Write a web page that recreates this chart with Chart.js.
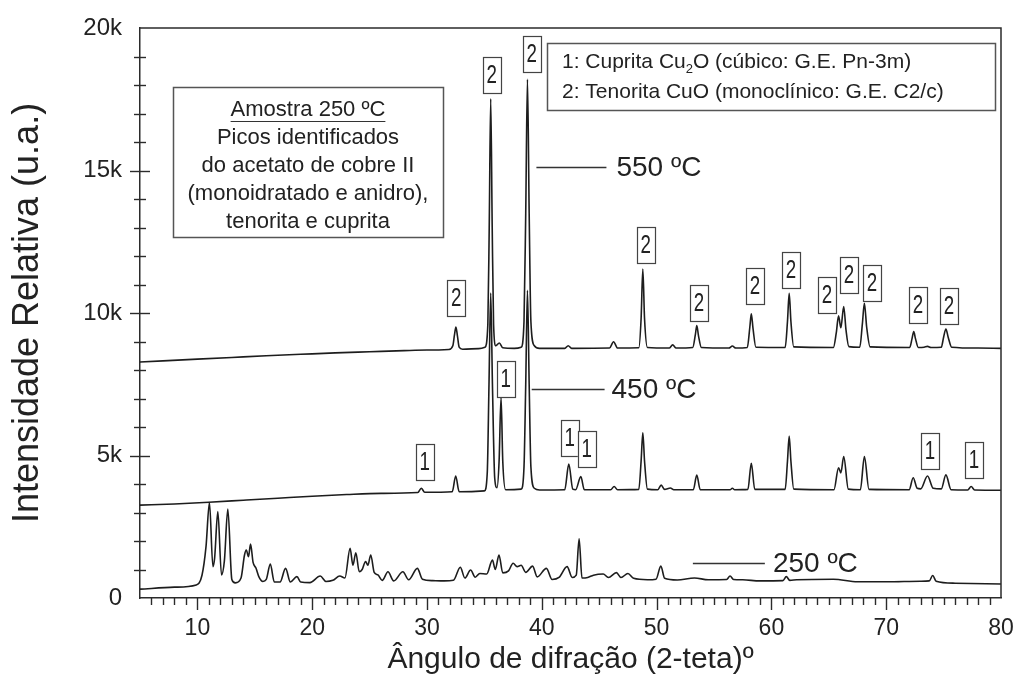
<!DOCTYPE html>
<html><head><meta charset="utf-8">
<script src="https://cdn.jsdelivr.net/npm/chart.js@4/dist/chart.umd.min.js"></script>
<style>html,body{margin:0;padding:0;background:#fff;}#wrap{width:1019px;height:693px;}</style>
</head><body><div id="wrap"><canvas id="c" width="1019" height="693"></canvas></div>
<script>
// ---- data ----
const angle550 = [5,7,10,13,16,19,22,25,28,30,31.9,32.25,32.4,32.52,32.65,32.8,33.1,34.5,35.05,35.3,35.42,35.55,35.68,35.8,36.0,36.3,36.6,37.6,38.2,38.45,38.6,38.75,38.9,39.05,39.35,39.8,42.0,42.3,42.6,45.9,46.25,46.6,48.45,48.65,48.8,48.95,49.2,51.1,51.4,51.7,53.15,53.38,53.5,53.65,53.9,56.3,56.6,56.9,57.9,58.12,58.25,58.4,58.65,61.2,61.4,61.55,61.7,61.95,65.4,65.65,65.85,66.05,66.3,66.5,66.75,67.7,67.92,68.1,68.3,68.6,72.05,72.25,72.4,72.55,72.8,73.3,73.6,73.9,74.8,75.0,75.2,75.4,75.7,78,80];
const int550 = [8280,8320,8380,8440,8500,8550,8600,8640,8680,8700,8720,8850,9250,9510,9200,8800,8730,8750,8800,9600,13000,17520,13000,9600,8850,8950,8780,8760,8800,9700,13500,18200,13500,9700,8850,8760,8760,8850,8760,8770,8990,8770,8780,9800,11540,9800,8790,8770,8880,8770,8790,9250,9560,9200,8790,8770,8840,8770,8790,9500,9970,9450,8800,8790,9700,10690,9700,8810,8790,9300,9900,9480,10230,9400,8820,8800,9600,10340,9500,8810,8790,9100,9350,9100,8790,8800,8830,8790,8800,9150,9440,9150,8800,8770,8760];

const angle450 = [5,8,11,14,17,20,23,26,29.2,29.5,29.8,32.2,32.5,32.8,35.0,35.25,35.4,35.55,35.7,35.9,36.1,36.28,36.45,36.6,36.85,38.2,38.45,38.6,38.75,38.9,39.05,39.35,39.8,42.0,42.35,42.7,42.95,43.4,43.7,46.0,46.3,46.6,48.45,48.65,48.8,48.95,49.2,50.1,50.4,50.7,51.2,51.5,53.2,53.5,53.8,56.4,56.6,56.8,57.95,58.25,58.55,61.2,61.4,61.55,61.7,61.95,65.45,65.85,66.05,66.3,66.7,67.75,68.1,68.5,72.0,72.35,72.7,73.0,73.6,74.1,74.8,75.2,75.65,77.1,77.4,77.7,80];
const int450 = [3260,3300,3360,3430,3500,3570,3630,3670,3700,3850,3710,3730,4280,3730,3760,4400,7500,10700,7500,4200,3870,4800,7050,4800,3800,3820,4600,7500,10800,7500,4600,3850,3790,3800,4700,3820,3800,4260,3800,3800,3910,3800,3810,4800,5800,4800,3820,3800,3960,3810,3860,3800,3800,4310,3800,3800,3850,3800,3810,4730,3810,3810,4800,5680,4800,3820,3800,4570,4390,4960,3820,3800,4960,3810,3800,4220,3850,3830,4280,3850,3830,4320,3800,3790,3910,3790,3780];

const angle250 = [5,8,9.9,10.4,10.75,11.05,11.35,11.5,11.78,12.1,12.35,12.65,13.0,13.3,13.8,14.1,14.26,14.45,14.63,14.85,15.1,15.35,15.7,16.0,16.35,16.7,17.2,17.68,18.1,18.67,19.0,19.8,20.7,21.2,21.8,22.4,22.85,23.3,23.55,23.8,24.1,24.35,24.65,24.85,25.1,25.4,25.73,26.1,26.6,27.1,27.9,28.4,29.16,29.6,30.5,31.5,32.3,32.9,33.3,33.8,34.2,34.6,35.2,35.7,35.95,36.27,36.6,37.1,37.5,37.85,38.2,38.6,39.2,39.6,40.4,40.9,41.5,42.2,42.65,43.0,43.25,43.5,44.0,44.5,45.35,45.8,46.5,46.9,47.5,48.0,49.2,49.95,50.37,50.7,51.8,53.3,54.5,56.1,56.4,56.7,57.5,59.0,61.0,61.3,61.6,62.2,65.4,67.5,70.0,73.0,73.75,74.05,74.35,76.0,80];
const int250 = [310,380,460,800,1800,3350,1100,1400,3030,810,1300,3120,650,530,700,1500,1680,1450,1890,1250,1050,750,580,650,1190,560,560,1040,560,750,560,540,770,580,620,770,700,1740,1150,1590,920,1000,1280,1150,1510,900,810,620,920,600,920,640,1040,660,610,600,620,1080,700,980,730,860,840,1330,1000,1510,880,950,1220,1100,1150,900,1120,740,1040,650,720,1100,720,800,2080,700,720,800,840,720,890,720,860,690,640,660,1120,690,630,700,640,650,770,650,640,600,610,750,620,640,660,570,570,590,600,790,590,520,490];

const xTickValues = [10,20,30,40,50,60,70,80];
const xTickLabels = ['10','20','30','40','50','60','70','80'];
const yTickValues = [0,5000,10000,15000,20000];
const yTickLabels = ['0','5k','10k','15k','20k'];

// phase marks: [angle, intensity] of each numbered box
const tenoritaMarks = [[32.54,10527],[35.64,18352],[39.13,19089],[49.06,12387],[53.68,10352],[58.56,10948],[61.70,11510],[64.84,10632],[66.76,11334],[68.76,11053],[72.77,10281],[75.47,10246]];
const cupritaMarks = [[29.80,4772],[36.86,7685],[42.44,5614],[43.92,5228],[73.81,5158],[77.65,4842]];

// curve labels: text, line start angle, line end angle, intensity, text angle
const curveLabels = [
  ['550 ºC', 39.53, 45.63, 15135, 46.5],
  ['450 ºC', 39.12, 45.47, 7334, 46.07],
  ['250 ºC', 53.16, 59.43, 1239, 60.13]
];
const legendLines = ['1: Cuprita Cu', '2', 'O (cúbico: G.E. Pn-3m)', '2: Tenorita CuO (monoclínico: G.E. C2/c)'];
const noteLines = ['Amostra 250 ºC','Picos identificados','do acetato de cobre II','(monoidratado e anidro),','tenorita e cuprita'];

// ---- drawing ----
const FONT = "'Liberation Sans', Arial, Helvetica, sans-serif";
const INK = '#222';
Chart.defaults.font.family = FONT;
Chart.defaults.color = INK;

const toPts = (xs, ys) => xs.map((x, i) => ({x, y: ys[i]}));

const overlay = {
  id: 'overlay',
  afterDraw(chart) {
    const {ctx, chartArea: ca, scales: {x, y}} = chart;
    ctx.save();
    ctx.strokeStyle = '#2b2b2b';
    ctx.lineWidth = 1.5;
    ctx.beginPath();
    ctx.moveTo(ca.left, ca.top); ctx.lineTo(ca.right, ca.top); ctx.lineTo(ca.right, ca.bottom);
    ctx.stroke();
    // y ticks (crossing axis)
    ctx.lineWidth = 1.4;
    for (let v = 1000; v < 20000; v += 1000) {
      const py = Math.round(y.getPixelForValue(v)) + 0.5;
      const L = (v % 5000 === 0) ? 10 : 6;
      ctx.beginPath(); ctx.moveTo(ca.left - L, py); ctx.lineTo(ca.left + L, py); ctx.stroke();
    }
    // x ticks (outward)
    for (let v = 6; v < 80; v += 1) {
      const px = Math.round(x.getPixelForValue(v)) + 0.5;
      const L = (v % 10 === 0) ? 12 : 7;
      ctx.beginPath(); ctx.moveTo(px, ca.bottom); ctx.lineTo(px, ca.bottom + L); ctx.stroke();
    }
    // phase marks
    const drawMark = (m, t) => {
      const cx = x.getPixelForValue(m[0]), cy = y.getPixelForValue(m[1]);
      ctx.fillStyle = '#fff';
      ctx.fillRect(cx - 9, cy - 18, 18, 36);
      ctx.strokeStyle = '#444'; ctx.lineWidth = 1.2;
      ctx.strokeRect(Math.round(cx - 9) + 0.5, Math.round(cy - 18) + 0.5, 18, 36);
      ctx.save();
      ctx.translate(cx, cy + 1);
      ctx.scale(0.75, 1);
      ctx.fillStyle = INK;
      ctx.font = '25px ' + FONT;
      ctx.textAlign = 'center'; ctx.textBaseline = 'middle';
      ctx.fillText(t, 0, 0);
      ctx.restore();
    };
    tenoritaMarks.forEach(m => drawMark(m, '2'));
    cupritaMarks.forEach(m => drawMark(m, '1'));
    // curve labels
    ctx.font = '28px ' + FONT; ctx.textAlign = 'left'; ctx.textBaseline = 'middle';
    curveLabels.forEach(c => {
      const py = Math.round(y.getPixelForValue(c[3])) + 0.5;
      ctx.strokeStyle = '#333'; ctx.lineWidth = 1.5;
      ctx.beginPath(); ctx.moveTo(x.getPixelForValue(c[1]), py); ctx.lineTo(x.getPixelForValue(c[2]), py); ctx.stroke();
      ctx.fillStyle = INK;
      ctx.fillText(c[0], x.getPixelForValue(c[4]), py + 1);
    });
    // legend box
    const lx = ca.left + 407, ly = ca.top + 15, lw = 448, lh = 67;
    ctx.fillStyle = '#fff'; ctx.fillRect(lx, ly, lw, lh);
    ctx.strokeStyle = '#555'; ctx.lineWidth = 1.5; ctx.strokeRect(lx + 0.5, ly + 0.5, lw, lh);
    ctx.fillStyle = INK; ctx.textAlign = 'left'; ctx.textBaseline = 'middle';
    ctx.font = '21px ' + FONT;
    let tx = lx + 15; const l1 = ly + 19, l2 = ly + 49;
    ctx.fillText(legendLines[0], tx, l1); tx += ctx.measureText(legendLines[0]).width;
    ctx.font = '13px ' + FONT; ctx.fillText(legendLines[1], tx, l1 + 7); tx += ctx.measureText(legendLines[1]).width;
    ctx.font = '21px ' + FONT; ctx.fillText(legendLines[2], tx, l1);
    ctx.fillText(legendLines[3], lx + 15, l2);
    // note box
    const nx = ca.left + 33, ny = ca.top + 59, nw = 270, nh = 150;
    ctx.strokeStyle = '#555'; ctx.lineWidth = 1.5; ctx.strokeRect(nx + 0.5, ny + 0.5, nw, nh);
    ctx.font = '22px ' + FONT; ctx.textAlign = 'center'; ctx.fillStyle = INK;
    const ncx = nx + nw / 2;
    noteLines.forEach((t, i) => {
      const yy = ny + 23 + i * 28;
      ctx.fillText(t, ncx, yy);
      if (i === 0) {
        const w = ctx.measureText(t).width;
        ctx.strokeStyle = '#333'; ctx.lineWidth = 1.2;
        ctx.beginPath(); ctx.moveTo(ncx - w / 2, yy + 11.5); ctx.lineTo(ncx + w / 2, yy + 11.5); ctx.stroke();
      }
    });
    ctx.restore();
  }
};

const lineStyle = {borderColor: '#1d1d1d', borderWidth: 1.6, pointRadius: 0, fill: false, cubicInterpolationMode: 'monotone'};

new Chart(document.getElementById('c'), {
  type: 'line',
  data: {
    datasets: [
      Object.assign({label: '550 ºC', data: toPts(angle550, int550)}, lineStyle),
      Object.assign({label: '450 ºC', data: toPts(angle450, int450)}, lineStyle),
      Object.assign({label: '250 ºC', data: toPts(angle250, int250)}, lineStyle)
    ]
  },
  options: {
    responsive: false,
    animation: false,
    devicePixelRatio: 1,
    layout: {padding: {top: 28, right: 18, bottom: 0, left: 0}},
    plugins: {legend: {display: false}, tooltip: {enabled: false}},
    scales: {
      x: {
        type: 'linear', min: 5, max: 80,
        afterBuildTicks: s => { s.ticks = xTickValues.map(v => ({value: v})); },
        afterFit: s => { s.height = 95; },
        ticks: {callback: (v, i) => xTickLabels[i], font: {size: 23}, color: INK, padding: 5, maxRotation: 0, autoSkip: false},
        grid: {display: true, drawOnChartArea: false, drawTicks: true, tickLength: 12, tickColor: 'rgba(0,0,0,0)'},
        border: {display: true, color: '#2b2b2b', width: 1.5},
        title: {display: true, text: 'Ângulo de difração (2-teta)º', font: {size: 30}, color: INK, padding: {top: 0, bottom: 15}}
      },
      y: {
        type: 'linear', min: 0, max: 20000,
        afterBuildTicks: s => { s.ticks = yTickValues.map(v => ({value: v})); },
        afterFit: s => { s.width = 140; },
        ticks: {callback: (v, i) => yTickLabels[i], font: {size: 24}, color: INK, padding: 8},
        grid: {display: true, drawOnChartArea: false, drawTicks: true, tickLength: 10, tickColor: 'rgba(0,0,0,0)'},
        border: {display: true, color: '#2b2b2b', width: 1.5},
        title: {display: true, text: 'Intensidade Relativa (u.a.)', font: {size: 36}, color: INK, padding: {top: 6, bottom: 0}}
      }
    }
  },
  plugins: [overlay]
});
</script>
</body></html>
